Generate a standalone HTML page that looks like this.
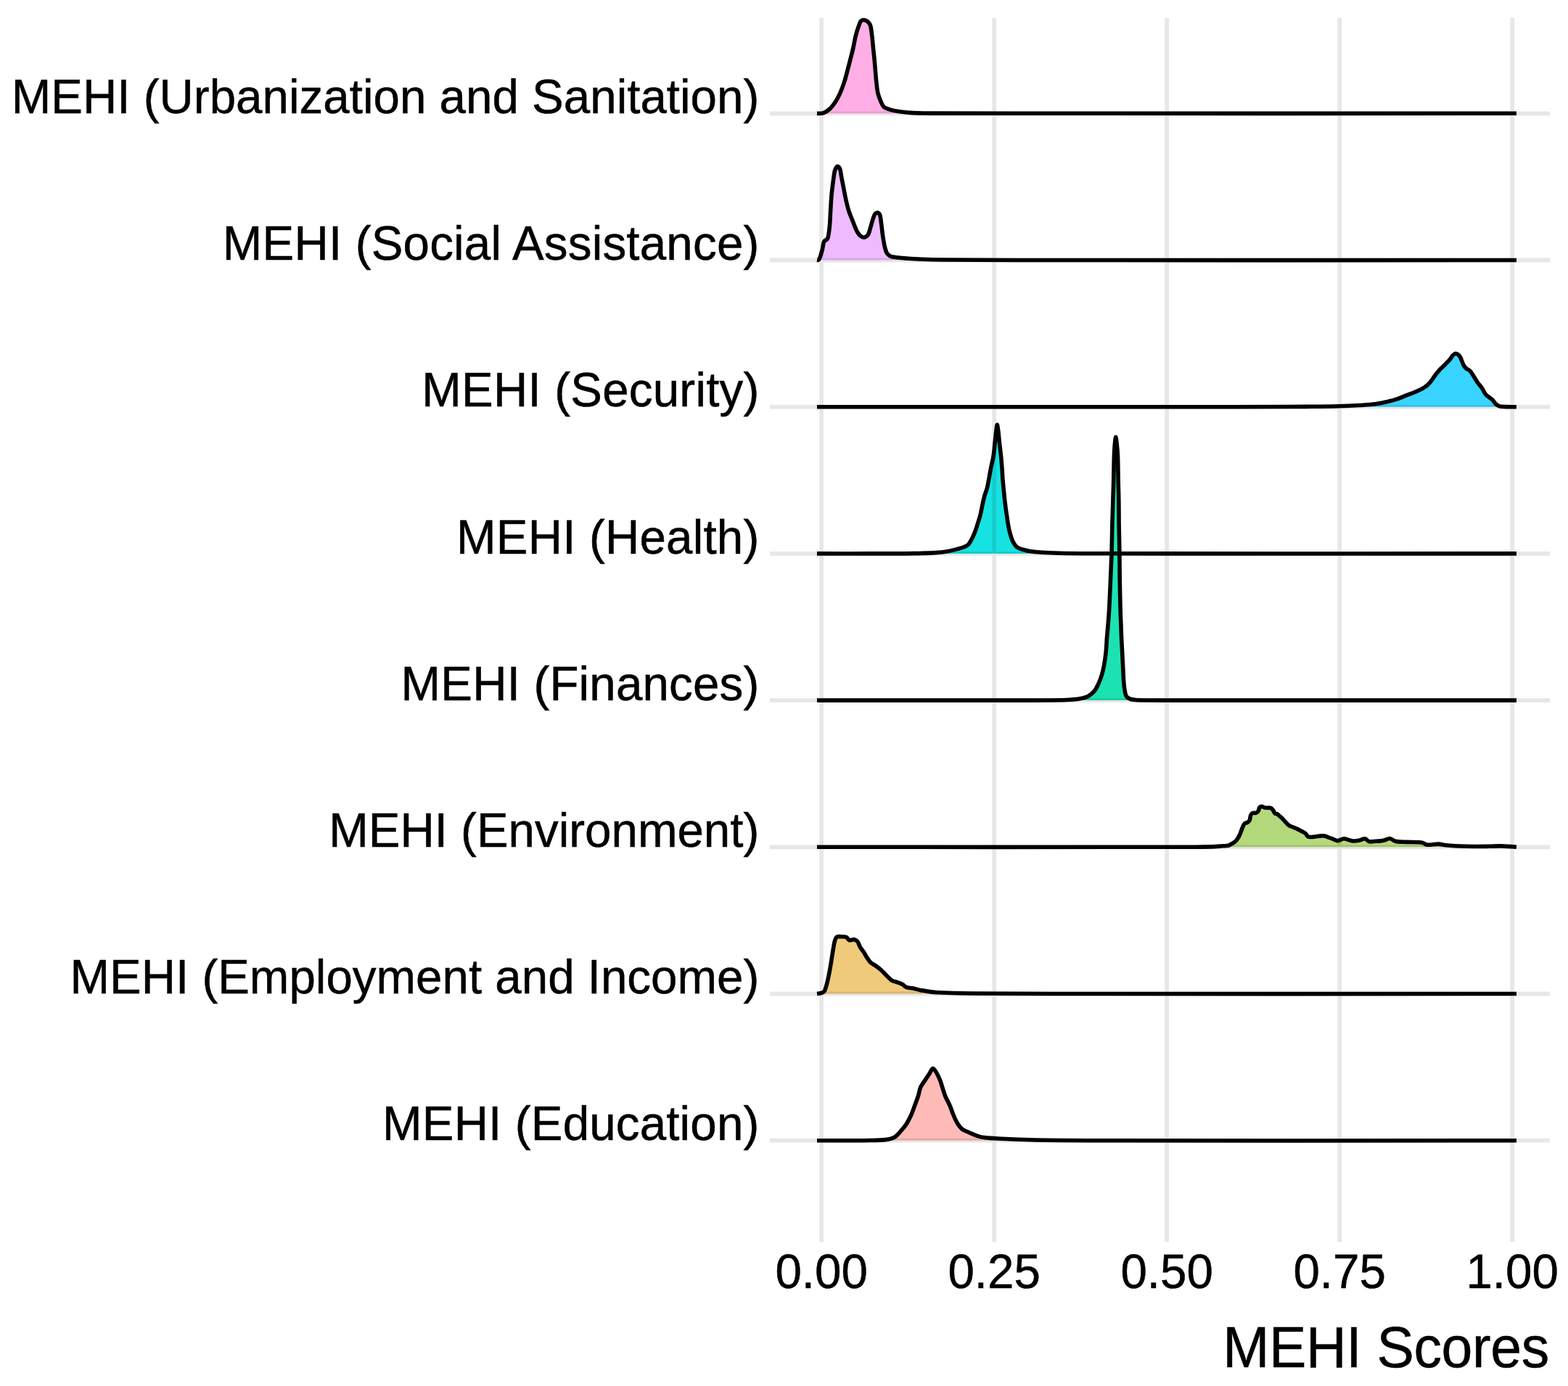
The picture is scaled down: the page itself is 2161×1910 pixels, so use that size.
<!DOCTYPE html>
<html><head><meta charset="utf-8"><title>MEHI Scores ridgeline</title>
<style>html,body{margin:0;padding:0;background:#fff;width:2161px;height:1910px;overflow:hidden}svg{display:block}text{font-family:"Liberation Sans",Arial,Helvetica,sans-serif;fill:#000}</style></head><body>
<svg width="2161" height="1910" viewBox="0 0 2161 1910">
<rect width="2161" height="1910" fill="#fff"/>
<g stroke="#E7E7E7" stroke-width="5.8" fill="none"><line x1="1132.2" y1="24.6" x2="1132.2" y2="1711.4"/><line x1="1370.2" y1="24.6" x2="1370.2" y2="1711.4"/><line x1="1608.2" y1="24.6" x2="1608.2" y2="1711.4"/><line x1="1846.2" y1="24.6" x2="1846.2" y2="1711.4"/><line x1="2084.2" y1="24.6" x2="2084.2" y2="1711.4"/><line x1="1061.0" y1="156.3" x2="2136.0" y2="156.3"/><line x1="1061.0" y1="358.5" x2="2136.0" y2="358.5"/><line x1="1061.0" y1="560.7" x2="2136.0" y2="560.7"/><line x1="1061.0" y1="762.9" x2="2136.0" y2="762.9"/><line x1="1061.0" y1="965.1" x2="2136.0" y2="965.1"/><line x1="1061.0" y1="1167.3" x2="2136.0" y2="1167.3"/><line x1="1061.0" y1="1369.5" x2="2136.0" y2="1369.5"/><line x1="1061.0" y1="1571.7" x2="2136.0" y2="1571.7"/></g>
<path d="M1126.0,156.3 C1126.0,156.3 1132.2,156.6 1135.0,155.6 C1138.0,154.6 1140.9,152.5 1143.5,150.1 C1146.5,147.4 1149.2,143.6 1151.6,140.0 C1154.0,136.4 1155.9,132.6 1157.8,128.4 C1159.9,123.7 1161.9,118.2 1163.6,113.0 C1165.3,107.9 1166.5,102.7 1167.9,97.5 C1169.3,92.3 1170.6,87.2 1171.9,82.0 C1173.2,76.8 1174.6,71.7 1175.8,66.5 C1177.0,61.3 1177.8,55.7 1178.9,51.0 C1179.9,47.0 1181.0,43.1 1182.0,40.0 C1182.8,37.7 1183.4,35.9 1184.2,34.0 C1184.9,32.3 1185.3,30.3 1186.3,29.2 C1187.1,28.3 1188.3,27.8 1189.5,27.6 C1190.7,27.4 1192.3,27.8 1193.5,28.3 C1194.8,28.8 1196.0,29.7 1197.0,30.8 C1198.1,32.0 1198.9,33.4 1199.6,35.5 C1200.8,39.1 1201.3,45.8 1202.0,51.0 C1202.6,56.2 1203.0,61.3 1203.5,66.5 C1204.0,71.7 1204.6,76.8 1205.1,82.0 C1205.6,87.2 1206.0,92.3 1206.4,97.5 C1206.9,102.7 1207.2,107.8 1207.8,113.0 C1208.4,118.1 1208.8,123.7 1209.9,128.4 C1210.9,132.6 1212.5,136.6 1214.0,140.0 C1215.3,142.8 1216.2,145.5 1218.2,147.3 C1220.2,149.1 1223.1,149.8 1226.0,150.8 C1229.5,152.0 1233.6,152.9 1238.0,153.6 C1243.2,154.5 1248.8,155.0 1255.0,155.4 C1262.5,155.9 1268.6,155.9 1280.0,156.1 C1305.1,156.5 1343.5,156.3 1400.0,156.3 C1535.4,156.4 2090.0,156.3 2090.0,156.3 L2090.0,156.3 L1126.0,156.3 Z" fill="#FFAFE5" stroke="none" style="mix-blend-mode:multiply"/>
<path d="M1126.0,156.3 C1126.0,156.3 1132.2,156.6 1135.0,155.6 C1138.0,154.6 1140.9,152.5 1143.5,150.1 C1146.5,147.4 1149.2,143.6 1151.6,140.0 C1154.0,136.4 1155.9,132.6 1157.8,128.4 C1159.9,123.7 1161.9,118.2 1163.6,113.0 C1165.3,107.9 1166.5,102.7 1167.9,97.5 C1169.3,92.3 1170.6,87.2 1171.9,82.0 C1173.2,76.8 1174.6,71.7 1175.8,66.5 C1177.0,61.3 1177.8,55.7 1178.9,51.0 C1179.9,47.0 1181.0,43.1 1182.0,40.0 C1182.8,37.7 1183.4,35.9 1184.2,34.0 C1184.9,32.3 1185.3,30.3 1186.3,29.2 C1187.1,28.3 1188.3,27.8 1189.5,27.6 C1190.7,27.4 1192.3,27.8 1193.5,28.3 C1194.8,28.8 1196.0,29.7 1197.0,30.8 C1198.1,32.0 1198.9,33.4 1199.6,35.5 C1200.8,39.1 1201.3,45.8 1202.0,51.0 C1202.6,56.2 1203.0,61.3 1203.5,66.5 C1204.0,71.7 1204.6,76.8 1205.1,82.0 C1205.6,87.2 1206.0,92.3 1206.4,97.5 C1206.9,102.7 1207.2,107.8 1207.8,113.0 C1208.4,118.1 1208.8,123.7 1209.9,128.4 C1210.9,132.6 1212.5,136.6 1214.0,140.0 C1215.3,142.8 1216.2,145.5 1218.2,147.3 C1220.2,149.1 1223.1,149.8 1226.0,150.8 C1229.5,152.0 1233.6,152.9 1238.0,153.6 C1243.2,154.5 1248.8,155.0 1255.0,155.4 C1262.5,155.9 1268.6,155.9 1280.0,156.1 C1305.1,156.5 1343.5,156.3 1400.0,156.3 C1535.4,156.4 2090.0,156.3 2090.0,156.3" fill="none" stroke="#000" stroke-width="5.6" stroke-linejoin="round" stroke-linecap="butt"/>
<path d="M1126.0,358.5 C1126.0,358.5 1127.6,358.7 1128.4,358.0 C1130.1,356.5 1131.6,349.9 1132.9,345.7 C1134.2,341.4 1134.2,335.3 1136.0,332.5 C1137.1,330.7 1139.2,331.0 1140.3,329.2 C1142.1,326.2 1142.4,319.9 1143.1,314.3 C1144.0,307.4 1144.1,298.6 1144.6,290.7 C1145.1,282.8 1145.5,274.6 1146.2,267.1 C1146.9,260.3 1147.7,253.4 1148.6,247.5 C1149.3,242.6 1149.6,237.3 1150.9,234.1 C1151.7,232.0 1152.9,229.5 1154.1,229.3 C1155.1,229.2 1156.4,230.4 1157.2,231.8 C1158.6,234.2 1158.8,239.4 1159.6,243.6 C1160.6,248.5 1161.7,254.1 1162.7,259.3 C1163.7,264.5 1164.6,269.8 1165.8,275.0 C1167.0,280.2 1168.2,285.7 1169.8,290.7 C1171.4,295.6 1173.4,300.0 1175.3,304.8 C1177.3,309.7 1179.4,316.1 1181.6,319.8 C1183.0,322.2 1184.3,324.1 1186.0,325.3 C1187.4,326.3 1189.0,327.2 1190.6,327.1 C1192.3,327.0 1194.5,325.8 1195.9,324.2 C1197.7,322.1 1198.3,318.0 1199.4,314.5 C1200.7,310.6 1201.7,305.7 1203.0,302.1 C1204.0,299.3 1204.7,296.1 1206.1,294.6 C1207.0,293.6 1208.2,292.9 1209.2,293.0 C1210.3,293.1 1211.5,294.1 1212.3,295.5 C1213.7,297.9 1213.8,303.0 1214.5,307.4 C1215.3,312.7 1215.8,319.4 1216.7,325.1 C1217.5,330.3 1218.3,335.9 1219.4,340.2 C1220.3,343.6 1220.9,346.8 1222.4,349.0 C1223.6,350.8 1224.9,352.0 1226.9,353.0 C1229.7,354.4 1234.4,354.5 1238.4,355.0 C1242.7,355.6 1246.9,355.9 1251.7,356.3 C1257.3,356.7 1263.1,357.0 1270.0,357.3 C1278.8,357.6 1287.1,357.8 1300.0,358.0 C1323.6,358.3 1351.7,358.4 1400.0,358.5 C1526.8,358.8 2090.0,358.5 2090.0,358.5 L2090.0,358.5 L1126.0,358.5 Z" fill="#EEBBFF" stroke="none" style="mix-blend-mode:multiply"/>
<path d="M1126.0,358.5 C1126.0,358.5 1127.6,358.7 1128.4,358.0 C1130.1,356.5 1131.6,349.9 1132.9,345.7 C1134.2,341.4 1134.2,335.3 1136.0,332.5 C1137.1,330.7 1139.2,331.0 1140.3,329.2 C1142.1,326.2 1142.4,319.9 1143.1,314.3 C1144.0,307.4 1144.1,298.6 1144.6,290.7 C1145.1,282.8 1145.5,274.6 1146.2,267.1 C1146.9,260.3 1147.7,253.4 1148.6,247.5 C1149.3,242.6 1149.6,237.3 1150.9,234.1 C1151.7,232.0 1152.9,229.5 1154.1,229.3 C1155.1,229.2 1156.4,230.4 1157.2,231.8 C1158.6,234.2 1158.8,239.4 1159.6,243.6 C1160.6,248.5 1161.7,254.1 1162.7,259.3 C1163.7,264.5 1164.6,269.8 1165.8,275.0 C1167.0,280.2 1168.2,285.7 1169.8,290.7 C1171.4,295.6 1173.4,300.0 1175.3,304.8 C1177.3,309.7 1179.4,316.1 1181.6,319.8 C1183.0,322.2 1184.3,324.1 1186.0,325.3 C1187.4,326.3 1189.0,327.2 1190.6,327.1 C1192.3,327.0 1194.5,325.8 1195.9,324.2 C1197.7,322.1 1198.3,318.0 1199.4,314.5 C1200.7,310.6 1201.7,305.7 1203.0,302.1 C1204.0,299.3 1204.7,296.1 1206.1,294.6 C1207.0,293.6 1208.2,292.9 1209.2,293.0 C1210.3,293.1 1211.5,294.1 1212.3,295.5 C1213.7,297.9 1213.8,303.0 1214.5,307.4 C1215.3,312.7 1215.8,319.4 1216.7,325.1 C1217.5,330.3 1218.3,335.9 1219.4,340.2 C1220.3,343.6 1220.9,346.8 1222.4,349.0 C1223.6,350.8 1224.9,352.0 1226.9,353.0 C1229.7,354.4 1234.4,354.5 1238.4,355.0 C1242.7,355.6 1246.9,355.9 1251.7,356.3 C1257.3,356.7 1263.1,357.0 1270.0,357.3 C1278.8,357.6 1287.1,357.8 1300.0,358.0 C1323.6,358.3 1351.7,358.4 1400.0,358.5 C1526.8,358.8 2090.0,358.5 2090.0,358.5" fill="none" stroke="#000" stroke-width="5.6" stroke-linejoin="round" stroke-linecap="butt"/>
<path d="M1126.0,560.7 C1126.0,560.7 1587.3,560.9 1700.0,560.7 C1747.0,560.6 1773.4,560.7 1800.0,560.4 C1817.6,560.2 1830.8,560.1 1844.0,559.7 C1854.8,559.4 1864.3,559.0 1873.4,558.5 C1881.3,558.0 1888.8,557.7 1895.4,556.8 C1900.8,556.1 1905.2,555.1 1910.1,554.0 C1915.0,552.9 1920.0,551.8 1924.8,550.2 C1929.7,548.6 1934.6,546.3 1939.4,544.4 C1944.2,542.5 1949.4,540.7 1953.7,538.7 C1957.5,536.9 1961.0,535.3 1964.0,533.2 C1966.6,531.4 1968.6,529.5 1970.8,527.1 C1973.2,524.4 1975.4,520.5 1977.7,517.5 C1979.9,514.6 1982.2,511.8 1984.5,509.2 C1986.7,506.8 1989.1,504.7 1991.4,502.4 C1993.7,500.1 1996.4,497.7 1998.2,495.5 C1999.7,493.7 2000.4,491.7 2001.8,490.3 C2003.1,489.0 2004.7,487.4 2006.1,487.3 C2007.4,487.2 2008.9,488.2 2010.0,489.0 C2011.1,489.8 2011.7,490.8 2012.6,492.3 C2014.1,494.9 2015.7,501.0 2017.4,503.8 C2018.5,505.7 2019.6,506.8 2021.0,508.0 C2022.4,509.2 2024.2,509.5 2025.6,510.8 C2027.4,512.4 2028.8,515.1 2030.4,517.5 C2032.2,520.2 2033.9,523.5 2035.9,526.4 C2038.0,529.4 2040.7,532.3 2042.7,535.3 C2044.5,538.0 2045.4,541.1 2047.5,543.5 C2049.8,546.2 2053.9,548.0 2056.4,550.5 C2058.6,552.6 2060.0,555.6 2061.9,557.2 C2063.4,558.5 2064.8,559.2 2066.7,559.8 C2069.0,560.5 2071.8,560.4 2075.0,560.6 C2079.3,560.8 2090.0,560.7 2090.0,560.7 L2090.0,560.7 L1126.0,560.7 Z" fill="#38D4FF" stroke="none" style="mix-blend-mode:multiply"/>
<path d="M1126.0,560.7 C1126.0,560.7 1587.3,560.9 1700.0,560.7 C1747.0,560.6 1773.4,560.7 1800.0,560.4 C1817.6,560.2 1830.8,560.1 1844.0,559.7 C1854.8,559.4 1864.3,559.0 1873.4,558.5 C1881.3,558.0 1888.8,557.7 1895.4,556.8 C1900.8,556.1 1905.2,555.1 1910.1,554.0 C1915.0,552.9 1920.0,551.8 1924.8,550.2 C1929.7,548.6 1934.6,546.3 1939.4,544.4 C1944.2,542.5 1949.4,540.7 1953.7,538.7 C1957.5,536.9 1961.0,535.3 1964.0,533.2 C1966.6,531.4 1968.6,529.5 1970.8,527.1 C1973.2,524.4 1975.4,520.5 1977.7,517.5 C1979.9,514.6 1982.2,511.8 1984.5,509.2 C1986.7,506.8 1989.1,504.7 1991.4,502.4 C1993.7,500.1 1996.4,497.7 1998.2,495.5 C1999.7,493.7 2000.4,491.7 2001.8,490.3 C2003.1,489.0 2004.7,487.4 2006.1,487.3 C2007.4,487.2 2008.9,488.2 2010.0,489.0 C2011.1,489.8 2011.7,490.8 2012.6,492.3 C2014.1,494.9 2015.7,501.0 2017.4,503.8 C2018.5,505.7 2019.6,506.8 2021.0,508.0 C2022.4,509.2 2024.2,509.5 2025.6,510.8 C2027.4,512.4 2028.8,515.1 2030.4,517.5 C2032.2,520.2 2033.9,523.5 2035.9,526.4 C2038.0,529.4 2040.7,532.3 2042.7,535.3 C2044.5,538.0 2045.4,541.1 2047.5,543.5 C2049.8,546.2 2053.9,548.0 2056.4,550.5 C2058.6,552.6 2060.0,555.6 2061.9,557.2 C2063.4,558.5 2064.8,559.2 2066.7,559.8 C2069.0,560.5 2071.8,560.4 2075.0,560.6 C2079.3,560.8 2090.0,560.7 2090.0,560.7" fill="none" stroke="#000" stroke-width="5.6" stroke-linejoin="round" stroke-linecap="butt"/>
<path d="M1126.0,762.9 C1126.0,762.9 1176.6,763.0 1200.0,762.9 C1221.0,762.8 1243.4,762.9 1260.0,762.6 C1271.7,762.4 1281.7,762.2 1290.0,761.6 C1295.9,761.2 1300.0,760.8 1305.0,759.9 C1310.0,759.0 1315.8,757.5 1320.0,756.4 C1323.1,755.6 1325.6,755.0 1328.0,754.0 C1330.2,753.1 1332.3,752.3 1334.0,750.8 C1335.7,749.3 1336.7,747.5 1338.0,745.2 C1339.9,742.0 1342.1,737.1 1343.7,733.0 C1345.3,729.0 1346.4,725.0 1347.7,720.9 C1349.0,716.9 1350.3,712.8 1351.3,708.7 C1352.3,704.7 1352.9,700.6 1353.8,696.5 C1354.7,692.4 1355.5,688.3 1356.6,684.3 C1357.7,680.2 1359.4,676.3 1360.5,672.2 C1361.5,668.2 1362.1,664.3 1362.9,660.0 C1363.8,655.3 1364.6,650.0 1365.6,645.0 C1366.6,640.0 1368.0,635.5 1368.9,630.0 C1370.0,623.4 1370.7,614.4 1371.4,608.0 C1371.9,603.1 1372.2,599.0 1372.7,595.0 C1373.2,591.5 1373.8,585.3 1374.3,585.3 C1374.8,585.3 1375.4,591.5 1375.9,595.0 C1376.4,599.0 1376.7,603.1 1377.2,608.0 C1377.9,614.4 1379.0,623.0 1379.7,630.0 C1380.3,636.3 1380.8,642.6 1381.2,648.0 C1381.5,652.4 1381.6,656.0 1381.9,660.0 C1382.2,664.1 1382.6,668.1 1383.0,672.2 C1383.4,676.2 1383.8,680.3 1384.2,684.3 C1384.6,688.4 1385.1,692.4 1385.6,696.5 C1386.1,700.6 1386.7,704.6 1387.3,708.7 C1387.9,712.8 1388.4,716.9 1389.1,720.9 C1389.8,725.0 1390.4,729.0 1391.5,733.0 C1392.6,737.1 1393.7,741.6 1395.5,745.2 C1397.2,748.6 1399.2,752.2 1401.9,754.3 C1404.5,756.3 1408.2,756.9 1411.3,757.8 C1414.2,758.7 1416.7,759.3 1420.0,759.8 C1424.3,760.5 1429.4,760.8 1435.0,761.2 C1442.3,761.7 1450.7,762.0 1460.0,762.2 C1471.8,762.5 1483.7,762.6 1500.0,762.7 C1525.8,762.9 1554.1,762.9 1600.0,762.9 C1701.7,763.0 2090.0,762.9 2090.0,762.9 L2090.0,762.9 L1126.0,762.9 Z" fill="#16E2E2" stroke="none" style="mix-blend-mode:multiply"/>
<path d="M1126.0,762.9 C1126.0,762.9 1176.6,763.0 1200.0,762.9 C1221.0,762.8 1243.4,762.9 1260.0,762.6 C1271.7,762.4 1281.7,762.2 1290.0,761.6 C1295.9,761.2 1300.0,760.8 1305.0,759.9 C1310.0,759.0 1315.8,757.5 1320.0,756.4 C1323.1,755.6 1325.6,755.0 1328.0,754.0 C1330.2,753.1 1332.3,752.3 1334.0,750.8 C1335.7,749.3 1336.7,747.5 1338.0,745.2 C1339.9,742.0 1342.1,737.1 1343.7,733.0 C1345.3,729.0 1346.4,725.0 1347.7,720.9 C1349.0,716.9 1350.3,712.8 1351.3,708.7 C1352.3,704.7 1352.9,700.6 1353.8,696.5 C1354.7,692.4 1355.5,688.3 1356.6,684.3 C1357.7,680.2 1359.4,676.3 1360.5,672.2 C1361.5,668.2 1362.1,664.3 1362.9,660.0 C1363.8,655.3 1364.6,650.0 1365.6,645.0 C1366.6,640.0 1368.0,635.5 1368.9,630.0 C1370.0,623.4 1370.7,614.4 1371.4,608.0 C1371.9,603.1 1372.2,599.0 1372.7,595.0 C1373.2,591.5 1373.8,585.3 1374.3,585.3 C1374.8,585.3 1375.4,591.5 1375.9,595.0 C1376.4,599.0 1376.7,603.1 1377.2,608.0 C1377.9,614.4 1379.0,623.0 1379.7,630.0 C1380.3,636.3 1380.8,642.6 1381.2,648.0 C1381.5,652.4 1381.6,656.0 1381.9,660.0 C1382.2,664.1 1382.6,668.1 1383.0,672.2 C1383.4,676.2 1383.8,680.3 1384.2,684.3 C1384.6,688.4 1385.1,692.4 1385.6,696.5 C1386.1,700.6 1386.7,704.6 1387.3,708.7 C1387.9,712.8 1388.4,716.9 1389.1,720.9 C1389.8,725.0 1390.4,729.0 1391.5,733.0 C1392.6,737.1 1393.7,741.6 1395.5,745.2 C1397.2,748.6 1399.2,752.2 1401.9,754.3 C1404.5,756.3 1408.2,756.9 1411.3,757.8 C1414.2,758.7 1416.7,759.3 1420.0,759.8 C1424.3,760.5 1429.4,760.8 1435.0,761.2 C1442.3,761.7 1450.7,762.0 1460.0,762.2 C1471.8,762.5 1483.7,762.6 1500.0,762.7 C1525.8,762.9 1554.1,762.9 1600.0,762.9 C1701.7,763.0 2090.0,762.9 2090.0,762.9" fill="none" stroke="#000" stroke-width="5.6" stroke-linejoin="round" stroke-linecap="butt"/>
<path d="M1126.0,965.1 C1126.0,965.1 1345.3,965.2 1400.0,965.1 C1423.4,965.1 1436.2,965.2 1450.0,965.0 C1459.8,964.9 1467.7,964.8 1475.0,964.3 C1480.6,963.9 1485.5,963.5 1490.0,962.5 C1493.7,961.7 1497.0,961.0 1500.0,959.3 C1503.1,957.6 1506.0,955.1 1508.3,952.3 C1510.6,949.5 1512.1,946.2 1513.7,942.7 C1515.5,938.8 1517.2,934.3 1518.5,930.0 C1519.8,925.8 1520.6,922.0 1521.5,917.3 C1522.6,911.6 1523.5,904.6 1524.2,898.2 C1524.9,891.8 1525.0,885.3 1525.5,879.1 C1526.0,873.2 1526.5,867.4 1527.0,862.0 C1527.4,857.2 1527.7,854.1 1528.1,848.2 C1528.8,838.0 1529.6,820.2 1530.2,806.2 C1530.9,792.2 1531.5,778.1 1532.0,764.0 C1532.4,750.0 1532.6,734.6 1532.9,722.0 C1533.2,711.6 1533.5,703.2 1533.8,693.5 C1534.1,683.5 1534.4,673.6 1534.7,663.0 C1535.0,651.4 1535.1,636.1 1535.5,626.5 C1535.8,620.2 1536.0,615.4 1536.5,611.0 C1536.9,607.7 1537.4,602.3 1537.8,602.3 C1538.2,602.3 1538.7,607.7 1539.1,611.0 C1539.6,615.4 1540.1,620.2 1540.4,626.5 C1540.9,636.1 1540.9,651.4 1541.2,663.0 C1541.4,673.6 1541.8,683.5 1541.9,693.5 C1542.0,703.2 1542.0,711.6 1542.1,722.0 C1542.3,734.6 1542.7,750.0 1542.9,764.0 C1543.1,778.0 1543.1,792.2 1543.4,806.2 C1543.6,820.2 1544.1,838.5 1544.4,848.2 C1544.6,853.3 1544.7,855.6 1544.9,860.0 C1545.1,865.6 1545.3,872.7 1545.6,879.1 C1545.9,885.5 1546.3,891.8 1546.6,898.2 C1546.9,904.6 1547.3,911.6 1547.6,917.3 C1547.8,922.0 1548.0,925.8 1548.2,930.0 C1548.4,934.2 1548.6,938.8 1549.0,942.7 C1549.3,946.1 1549.7,949.4 1550.3,952.3 C1550.8,954.8 1551.0,957.5 1552.2,959.3 C1553.4,961.0 1555.3,962.2 1557.3,963.1 C1559.5,964.1 1562.0,964.2 1565.0,964.5 C1569.2,964.9 1574.6,964.9 1580.0,965.0 C1586.2,965.1 1588.9,965.1 1600.0,965.1 C1654.9,965.2 2090.0,965.1 2090.0,965.1 L2090.0,965.1 L1126.0,965.1 Z" fill="#1CE2B2" stroke="none" style="mix-blend-mode:multiply"/>
<path d="M1126.0,965.1 C1126.0,965.1 1345.3,965.2 1400.0,965.1 C1423.4,965.1 1436.2,965.2 1450.0,965.0 C1459.8,964.9 1467.7,964.8 1475.0,964.3 C1480.6,963.9 1485.5,963.5 1490.0,962.5 C1493.7,961.7 1497.0,961.0 1500.0,959.3 C1503.1,957.6 1506.0,955.1 1508.3,952.3 C1510.6,949.5 1512.1,946.2 1513.7,942.7 C1515.5,938.8 1517.2,934.3 1518.5,930.0 C1519.8,925.8 1520.6,922.0 1521.5,917.3 C1522.6,911.6 1523.5,904.6 1524.2,898.2 C1524.9,891.8 1525.0,885.3 1525.5,879.1 C1526.0,873.2 1526.5,867.4 1527.0,862.0 C1527.4,857.2 1527.7,854.1 1528.1,848.2 C1528.8,838.0 1529.6,820.2 1530.2,806.2 C1530.9,792.2 1531.5,778.1 1532.0,764.0 C1532.4,750.0 1532.6,734.6 1532.9,722.0 C1533.2,711.6 1533.5,703.2 1533.8,693.5 C1534.1,683.5 1534.4,673.6 1534.7,663.0 C1535.0,651.4 1535.1,636.1 1535.5,626.5 C1535.8,620.2 1536.0,615.4 1536.5,611.0 C1536.9,607.7 1537.4,602.3 1537.8,602.3 C1538.2,602.3 1538.7,607.7 1539.1,611.0 C1539.6,615.4 1540.1,620.2 1540.4,626.5 C1540.9,636.1 1540.9,651.4 1541.2,663.0 C1541.4,673.6 1541.8,683.5 1541.9,693.5 C1542.0,703.2 1542.0,711.6 1542.1,722.0 C1542.3,734.6 1542.7,750.0 1542.9,764.0 C1543.1,778.0 1543.1,792.2 1543.4,806.2 C1543.6,820.2 1544.1,838.5 1544.4,848.2 C1544.6,853.3 1544.7,855.6 1544.9,860.0 C1545.1,865.6 1545.3,872.7 1545.6,879.1 C1545.9,885.5 1546.3,891.8 1546.6,898.2 C1546.9,904.6 1547.3,911.6 1547.6,917.3 C1547.8,922.0 1548.0,925.8 1548.2,930.0 C1548.4,934.2 1548.6,938.8 1549.0,942.7 C1549.3,946.1 1549.7,949.4 1550.3,952.3 C1550.8,954.8 1551.0,957.5 1552.2,959.3 C1553.4,961.0 1555.3,962.2 1557.3,963.1 C1559.5,964.1 1562.0,964.2 1565.0,964.5 C1569.2,964.9 1574.6,964.9 1580.0,965.0 C1586.2,965.1 1588.9,965.1 1600.0,965.1 C1654.9,965.2 2090.0,965.1 2090.0,965.1" fill="none" stroke="#000" stroke-width="5.6" stroke-linejoin="round" stroke-linecap="butt"/>
<path d="M1126.0,1167.3 C1126.0,1167.3 1522.5,1167.4 1600.0,1167.3 C1625.2,1167.3 1636.2,1167.4 1650.0,1167.2 C1659.8,1167.1 1668.5,1166.9 1675.0,1166.6 C1679.1,1166.4 1681.9,1166.0 1685.0,1165.8 C1687.8,1165.6 1690.5,1165.9 1692.8,1165.3 C1694.7,1164.7 1696.3,1163.6 1697.9,1162.6 C1699.5,1161.6 1701.3,1160.7 1702.6,1159.5 C1703.8,1158.4 1704.7,1157.0 1705.7,1155.6 C1706.7,1154.1 1707.7,1152.3 1708.5,1150.5 C1709.4,1148.6 1710.0,1146.6 1710.8,1144.6 C1711.6,1142.6 1712.3,1140.2 1713.2,1138.4 C1713.9,1136.9 1714.5,1135.4 1715.5,1134.6 C1716.4,1133.9 1717.9,1134.1 1719.0,1133.5 C1720.2,1132.8 1721.4,1131.7 1722.2,1130.3 C1723.1,1128.6 1722.8,1125.6 1723.6,1123.8 C1724.2,1122.4 1724.9,1121.0 1726.1,1120.4 C1727.4,1119.7 1729.8,1120.8 1731.2,1120.2 C1732.5,1119.7 1733.6,1118.6 1734.3,1117.4 C1735.1,1116.2 1734.9,1114.0 1735.7,1113.0 C1736.4,1112.1 1737.5,1111.5 1738.6,1111.4 C1740.0,1111.3 1741.8,1112.7 1743.7,1113.1 C1746.0,1113.5 1749.6,1112.7 1751.5,1113.6 C1753.0,1114.3 1753.8,1115.6 1754.7,1116.8 C1755.7,1118.1 1756.1,1120.2 1757.2,1121.0 C1758.0,1121.6 1759.0,1121.1 1760.0,1121.6 C1761.3,1122.2 1762.6,1123.8 1763.9,1124.9 C1765.2,1126.0 1766.5,1127.1 1767.8,1128.4 C1769.1,1129.7 1770.3,1131.3 1771.7,1132.7 C1773.2,1134.2 1774.7,1136.2 1776.4,1137.4 C1778.0,1138.5 1779.7,1138.9 1781.5,1139.7 C1783.4,1140.5 1785.5,1141.2 1787.4,1142.1 C1789.4,1143.0 1791.3,1144.1 1793.3,1145.2 C1795.2,1146.2 1797.4,1147.1 1799.1,1148.4 C1800.7,1149.7 1801.4,1152.3 1803.1,1153.1 C1804.7,1153.9 1806.8,1153.5 1808.9,1153.4 C1811.3,1153.3 1814.2,1152.6 1816.8,1152.3 C1819.4,1152.1 1822.2,1151.6 1824.6,1151.9 C1826.7,1152.2 1828.5,1153.1 1830.5,1153.8 C1832.4,1154.4 1834.6,1155.1 1836.3,1155.8 C1837.7,1156.4 1838.8,1157.0 1840.0,1157.5 C1841.0,1158.0 1841.7,1158.7 1843.0,1158.8 C1845.2,1158.9 1849.4,1155.9 1852.2,1155.8 C1854.5,1155.7 1856.5,1156.9 1858.7,1157.4 C1860.8,1157.9 1862.8,1158.9 1865.1,1159.0 C1867.7,1159.2 1870.9,1158.6 1873.7,1158.0 C1876.3,1157.5 1879.1,1155.4 1881.3,1155.8 C1883.3,1156.1 1884.5,1158.9 1886.7,1159.6 C1889.3,1160.4 1892.9,1159.5 1896.1,1159.3 C1899.6,1159.1 1903.5,1158.9 1906.9,1158.2 C1910.0,1157.6 1912.8,1155.3 1915.5,1155.5 C1918.1,1155.7 1919.9,1158.5 1923.0,1159.3 C1927.3,1160.5 1933.4,1160.1 1939.2,1160.4 C1945.9,1160.8 1956.0,1160.2 1960.7,1161.4 C1963.2,1162.0 1963.7,1163.6 1966.1,1164.1 C1970.0,1164.9 1977.4,1162.9 1982.2,1163.1 C1986.2,1163.3 1988.6,1164.2 1993.0,1164.7 C1999.9,1165.4 2010.5,1166.0 2019.9,1166.3 C2030.2,1166.6 2043.3,1166.4 2052.2,1166.3 C2058.5,1166.2 2062.6,1165.8 2068.4,1165.9 C2075.1,1166.0 2090.0,1167.3 2090.0,1167.3 L2090.0,1167.3 L1126.0,1167.3 Z" fill="#B3D97C" stroke="none" style="mix-blend-mode:multiply"/>
<path d="M1126.0,1167.3 C1126.0,1167.3 1522.5,1167.4 1600.0,1167.3 C1625.2,1167.3 1636.2,1167.4 1650.0,1167.2 C1659.8,1167.1 1668.5,1166.9 1675.0,1166.6 C1679.1,1166.4 1681.9,1166.0 1685.0,1165.8 C1687.8,1165.6 1690.5,1165.9 1692.8,1165.3 C1694.7,1164.7 1696.3,1163.6 1697.9,1162.6 C1699.5,1161.6 1701.3,1160.7 1702.6,1159.5 C1703.8,1158.4 1704.7,1157.0 1705.7,1155.6 C1706.7,1154.1 1707.7,1152.3 1708.5,1150.5 C1709.4,1148.6 1710.0,1146.6 1710.8,1144.6 C1711.6,1142.6 1712.3,1140.2 1713.2,1138.4 C1713.9,1136.9 1714.5,1135.4 1715.5,1134.6 C1716.4,1133.9 1717.9,1134.1 1719.0,1133.5 C1720.2,1132.8 1721.4,1131.7 1722.2,1130.3 C1723.1,1128.6 1722.8,1125.6 1723.6,1123.8 C1724.2,1122.4 1724.9,1121.0 1726.1,1120.4 C1727.4,1119.7 1729.8,1120.8 1731.2,1120.2 C1732.5,1119.7 1733.6,1118.6 1734.3,1117.4 C1735.1,1116.2 1734.9,1114.0 1735.7,1113.0 C1736.4,1112.1 1737.5,1111.5 1738.6,1111.4 C1740.0,1111.3 1741.8,1112.7 1743.7,1113.1 C1746.0,1113.5 1749.6,1112.7 1751.5,1113.6 C1753.0,1114.3 1753.8,1115.6 1754.7,1116.8 C1755.7,1118.1 1756.1,1120.2 1757.2,1121.0 C1758.0,1121.6 1759.0,1121.1 1760.0,1121.6 C1761.3,1122.2 1762.6,1123.8 1763.9,1124.9 C1765.2,1126.0 1766.5,1127.1 1767.8,1128.4 C1769.1,1129.7 1770.3,1131.3 1771.7,1132.7 C1773.2,1134.2 1774.7,1136.2 1776.4,1137.4 C1778.0,1138.5 1779.7,1138.9 1781.5,1139.7 C1783.4,1140.5 1785.5,1141.2 1787.4,1142.1 C1789.4,1143.0 1791.3,1144.1 1793.3,1145.2 C1795.2,1146.2 1797.4,1147.1 1799.1,1148.4 C1800.7,1149.7 1801.4,1152.3 1803.1,1153.1 C1804.7,1153.9 1806.8,1153.5 1808.9,1153.4 C1811.3,1153.3 1814.2,1152.6 1816.8,1152.3 C1819.4,1152.1 1822.2,1151.6 1824.6,1151.9 C1826.7,1152.2 1828.5,1153.1 1830.5,1153.8 C1832.4,1154.4 1834.6,1155.1 1836.3,1155.8 C1837.7,1156.4 1838.8,1157.0 1840.0,1157.5 C1841.0,1158.0 1841.7,1158.7 1843.0,1158.8 C1845.2,1158.9 1849.4,1155.9 1852.2,1155.8 C1854.5,1155.7 1856.5,1156.9 1858.7,1157.4 C1860.8,1157.9 1862.8,1158.9 1865.1,1159.0 C1867.7,1159.2 1870.9,1158.6 1873.7,1158.0 C1876.3,1157.5 1879.1,1155.4 1881.3,1155.8 C1883.3,1156.1 1884.5,1158.9 1886.7,1159.6 C1889.3,1160.4 1892.9,1159.5 1896.1,1159.3 C1899.6,1159.1 1903.5,1158.9 1906.9,1158.2 C1910.0,1157.6 1912.8,1155.3 1915.5,1155.5 C1918.1,1155.7 1919.9,1158.5 1923.0,1159.3 C1927.3,1160.5 1933.4,1160.1 1939.2,1160.4 C1945.9,1160.8 1956.0,1160.2 1960.7,1161.4 C1963.2,1162.0 1963.7,1163.6 1966.1,1164.1 C1970.0,1164.9 1977.4,1162.9 1982.2,1163.1 C1986.2,1163.3 1988.6,1164.2 1993.0,1164.7 C1999.9,1165.4 2010.5,1166.0 2019.9,1166.3 C2030.2,1166.6 2043.3,1166.4 2052.2,1166.3 C2058.5,1166.2 2062.6,1165.8 2068.4,1165.9 C2075.1,1166.0 2090.0,1167.3 2090.0,1167.3" fill="none" stroke="#000" stroke-width="5.6" stroke-linejoin="round" stroke-linecap="butt"/>
<path d="M1126.0,1369.5 C1126.0,1369.5 1133.4,1368.5 1135.5,1366.6 C1137.5,1364.8 1137.8,1361.6 1138.7,1358.8 C1139.7,1355.6 1140.5,1352.0 1141.3,1348.3 C1142.2,1344.2 1143.1,1339.8 1143.9,1335.2 C1144.8,1330.2 1145.7,1324.4 1146.5,1319.4 C1147.2,1314.8 1147.9,1310.4 1148.6,1306.3 C1149.3,1302.7 1149.7,1298.7 1150.7,1296.0 C1151.4,1294.0 1152.0,1292.1 1153.4,1291.2 C1154.8,1290.3 1157.2,1290.7 1159.2,1290.7 C1161.5,1290.7 1164.6,1290.6 1166.5,1291.6 C1168.1,1292.4 1168.6,1295.0 1170.2,1295.6 C1172.1,1296.3 1175.5,1294.2 1177.5,1294.7 C1179.2,1295.1 1180.6,1296.1 1181.8,1297.5 C1183.4,1299.3 1184.0,1302.7 1185.4,1305.2 C1186.9,1307.8 1189.1,1310.1 1190.7,1312.6 C1192.3,1315.0 1193.4,1317.6 1195.0,1319.9 C1196.5,1322.2 1197.9,1324.5 1199.9,1326.3 C1202.0,1328.2 1204.8,1329.4 1207.2,1331.1 C1209.7,1332.9 1212.2,1334.8 1214.6,1337.0 C1217.1,1339.3 1219.4,1342.0 1221.9,1344.4 C1224.3,1346.7 1226.6,1349.7 1229.2,1351.2 C1231.5,1352.6 1234.2,1352.7 1236.6,1353.6 C1239.1,1354.5 1241.8,1355.4 1243.9,1356.6 C1245.8,1357.7 1246.8,1359.4 1248.8,1360.3 C1251.4,1361.4 1255.3,1361.3 1258.6,1362.0 C1261.9,1362.7 1264.8,1363.7 1268.4,1364.4 C1272.8,1365.3 1278.4,1366.3 1283.1,1366.9 C1287.3,1367.4 1289.8,1367.5 1295.0,1367.8 C1305.2,1368.3 1321.7,1368.7 1340.0,1369.0 C1368.6,1369.4 1398.2,1369.4 1450.0,1369.5 C1575.0,1369.8 2090.0,1369.5 2090.0,1369.5 L2090.0,1369.5 L1126.0,1369.5 Z" fill="#EFCA7A" stroke="none" style="mix-blend-mode:multiply"/>
<path d="M1126.0,1369.5 C1126.0,1369.5 1133.4,1368.5 1135.5,1366.6 C1137.5,1364.8 1137.8,1361.6 1138.7,1358.8 C1139.7,1355.6 1140.5,1352.0 1141.3,1348.3 C1142.2,1344.2 1143.1,1339.8 1143.9,1335.2 C1144.8,1330.2 1145.7,1324.4 1146.5,1319.4 C1147.2,1314.8 1147.9,1310.4 1148.6,1306.3 C1149.3,1302.7 1149.7,1298.7 1150.7,1296.0 C1151.4,1294.0 1152.0,1292.1 1153.4,1291.2 C1154.8,1290.3 1157.2,1290.7 1159.2,1290.7 C1161.5,1290.7 1164.6,1290.6 1166.5,1291.6 C1168.1,1292.4 1168.6,1295.0 1170.2,1295.6 C1172.1,1296.3 1175.5,1294.2 1177.5,1294.7 C1179.2,1295.1 1180.6,1296.1 1181.8,1297.5 C1183.4,1299.3 1184.0,1302.7 1185.4,1305.2 C1186.9,1307.8 1189.1,1310.1 1190.7,1312.6 C1192.3,1315.0 1193.4,1317.6 1195.0,1319.9 C1196.5,1322.2 1197.9,1324.5 1199.9,1326.3 C1202.0,1328.2 1204.8,1329.4 1207.2,1331.1 C1209.7,1332.9 1212.2,1334.8 1214.6,1337.0 C1217.1,1339.3 1219.4,1342.0 1221.9,1344.4 C1224.3,1346.7 1226.6,1349.7 1229.2,1351.2 C1231.5,1352.6 1234.2,1352.7 1236.6,1353.6 C1239.1,1354.5 1241.8,1355.4 1243.9,1356.6 C1245.8,1357.7 1246.8,1359.4 1248.8,1360.3 C1251.4,1361.4 1255.3,1361.3 1258.6,1362.0 C1261.9,1362.7 1264.8,1363.7 1268.4,1364.4 C1272.8,1365.3 1278.4,1366.3 1283.1,1366.9 C1287.3,1367.4 1289.8,1367.5 1295.0,1367.8 C1305.2,1368.3 1321.7,1368.7 1340.0,1369.0 C1368.6,1369.4 1398.2,1369.4 1450.0,1369.5 C1575.0,1369.8 2090.0,1369.5 2090.0,1369.5" fill="none" stroke="#000" stroke-width="5.6" stroke-linejoin="round" stroke-linecap="butt"/>
<path d="M1126.0,1571.7 C1126.0,1571.7 1183.1,1571.9 1200.0,1571.5 C1208.8,1571.3 1214.9,1571.2 1220.0,1570.6 C1223.3,1570.2 1225.7,1569.8 1228.0,1569.1 C1230.0,1568.5 1231.4,1568.1 1233.2,1566.9 C1235.8,1565.2 1238.9,1561.6 1241.5,1558.7 C1244.2,1555.7 1246.8,1552.6 1249.1,1549.1 C1251.6,1545.3 1253.9,1540.7 1255.8,1536.4 C1257.7,1532.2 1259.0,1527.9 1260.6,1523.7 C1262.2,1519.4 1263.9,1515.2 1265.3,1510.9 C1266.7,1506.7 1267.1,1502.0 1268.8,1498.2 C1270.4,1494.6 1272.8,1491.8 1274.9,1488.6 C1277.0,1485.4 1279.3,1482.0 1281.2,1479.1 C1282.8,1476.6 1284.1,1472.3 1285.7,1472.2 C1287.4,1472.1 1289.5,1476.5 1291.1,1479.1 C1292.8,1481.9 1294.3,1485.4 1295.6,1488.6 C1296.8,1491.8 1297.6,1494.8 1298.7,1498.2 C1300.0,1502.1 1301.2,1506.7 1302.9,1510.9 C1304.7,1515.2 1307.4,1519.5 1309.2,1523.8 C1311.0,1527.9 1312.1,1532.0 1313.8,1536.0 C1315.5,1540.1 1317.4,1544.6 1319.5,1548.0 C1321.3,1550.9 1323.1,1553.6 1325.4,1555.5 C1327.5,1557.3 1330.0,1558.1 1332.5,1559.3 C1335.2,1560.6 1338.1,1561.9 1341.1,1563.1 C1344.2,1564.4 1347.3,1565.7 1350.9,1566.6 C1355.1,1567.6 1360.2,1568.0 1365.0,1568.4 C1369.9,1568.8 1373.8,1568.9 1380.0,1569.2 C1390.1,1569.7 1404.4,1570.4 1420.0,1570.8 C1442.1,1571.4 1461.0,1571.5 1500.0,1571.7 C1605.9,1572.3 2090.0,1571.7 2090.0,1571.7 L2090.0,1571.7 L1126.0,1571.7 Z" fill="#FFBBB8" stroke="none" style="mix-blend-mode:multiply"/>
<path d="M1126.0,1571.7 C1126.0,1571.7 1183.1,1571.9 1200.0,1571.5 C1208.8,1571.3 1214.9,1571.2 1220.0,1570.6 C1223.3,1570.2 1225.7,1569.8 1228.0,1569.1 C1230.0,1568.5 1231.4,1568.1 1233.2,1566.9 C1235.8,1565.2 1238.9,1561.6 1241.5,1558.7 C1244.2,1555.7 1246.8,1552.6 1249.1,1549.1 C1251.6,1545.3 1253.9,1540.7 1255.8,1536.4 C1257.7,1532.2 1259.0,1527.9 1260.6,1523.7 C1262.2,1519.4 1263.9,1515.2 1265.3,1510.9 C1266.7,1506.7 1267.1,1502.0 1268.8,1498.2 C1270.4,1494.6 1272.8,1491.8 1274.9,1488.6 C1277.0,1485.4 1279.3,1482.0 1281.2,1479.1 C1282.8,1476.6 1284.1,1472.3 1285.7,1472.2 C1287.4,1472.1 1289.5,1476.5 1291.1,1479.1 C1292.8,1481.9 1294.3,1485.4 1295.6,1488.6 C1296.8,1491.8 1297.6,1494.8 1298.7,1498.2 C1300.0,1502.1 1301.2,1506.7 1302.9,1510.9 C1304.7,1515.2 1307.4,1519.5 1309.2,1523.8 C1311.0,1527.9 1312.1,1532.0 1313.8,1536.0 C1315.5,1540.1 1317.4,1544.6 1319.5,1548.0 C1321.3,1550.9 1323.1,1553.6 1325.4,1555.5 C1327.5,1557.3 1330.0,1558.1 1332.5,1559.3 C1335.2,1560.6 1338.1,1561.9 1341.1,1563.1 C1344.2,1564.4 1347.3,1565.7 1350.9,1566.6 C1355.1,1567.6 1360.2,1568.0 1365.0,1568.4 C1369.9,1568.8 1373.8,1568.9 1380.0,1569.2 C1390.1,1569.7 1404.4,1570.4 1420.0,1570.8 C1442.1,1571.4 1461.0,1571.5 1500.0,1571.7 C1605.9,1572.3 2090.0,1571.7 2090.0,1571.7" fill="none" stroke="#000" stroke-width="5.6" stroke-linejoin="round" stroke-linecap="butt"/>
<g stroke="#000" stroke-width="0.5">
<text transform="translate(1046.3,155.9) scale(1,1.025)" font-size="65.5" text-anchor="end" textLength="1030.6" lengthAdjust="spacing">MEHI (Urbanization and Sanitation)</text>
<text transform="translate(1046.3,358.1) scale(1,1.025)" font-size="65.5" text-anchor="end" textLength="739.5" lengthAdjust="spacing">MEHI (Social Assistance)</text>
<text transform="translate(1046.3,560.3) scale(1,1.025)" font-size="65.5" text-anchor="end" textLength="465.0" lengthAdjust="spacing">MEHI (Security)</text>
<text transform="translate(1046.3,762.5) scale(1,1.025)" font-size="65.5" text-anchor="end" textLength="417.2" lengthAdjust="spacing">MEHI (Health)</text>
<text transform="translate(1046.3,964.7) scale(1,1.025)" font-size="65.5" text-anchor="end" textLength="493.7" lengthAdjust="spacing">MEHI (Finances)</text>
<text transform="translate(1046.3,1166.9) scale(1,1.025)" font-size="65.5" text-anchor="end" textLength="593.1" lengthAdjust="spacing">MEHI (Environment)</text>
<text transform="translate(1046.3,1369.1) scale(1,1.025)" font-size="65.5" text-anchor="end" textLength="949.8" lengthAdjust="spacing">MEHI (Employment and Income)</text>
<text transform="translate(1046.3,1571.3) scale(1,1.025)" font-size="65.5" text-anchor="end" textLength="519.2" lengthAdjust="spacing">MEHI (Education)</text>
<text transform="translate(1132.2,1774.6) scale(1,1.025)" font-size="65.6" text-anchor="middle">0.00</text>
<text transform="translate(1370.2,1774.6) scale(1,1.025)" font-size="65.6" text-anchor="middle">0.25</text>
<text transform="translate(1608.2,1774.6) scale(1,1.025)" font-size="65.6" text-anchor="middle">0.50</text>
<text transform="translate(1846.2,1774.6) scale(1,1.025)" font-size="65.6" text-anchor="middle">0.75</text>
<text transform="translate(2084.2,1774.6) scale(1,1.025)" font-size="65.6" text-anchor="middle">1.00</text>
<text transform="translate(2135.3,1884.3) scale(1,1.025)" font-size="77.0" text-anchor="end" textLength="450.0" lengthAdjust="spacing">MEHI Scores</text>
</g>
</svg></body></html>
